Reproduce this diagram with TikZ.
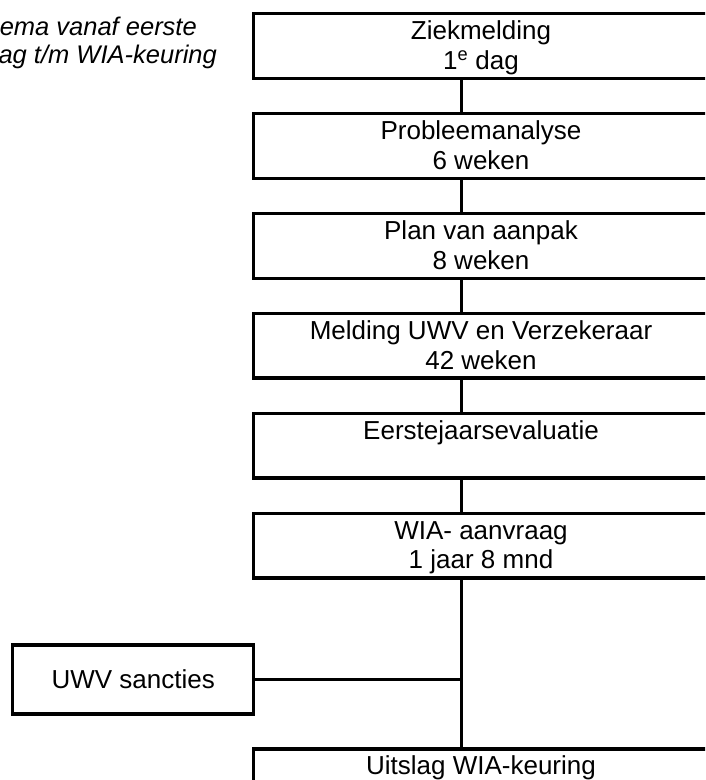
\documentclass[tikz,border=0pt]{standalone}
\usepackage{fontspec}
\setmainfont{Liberation Sans}
\begin{document}
\begin{tikzpicture}[x=1pt,y=-1pt,
  stepbox/.style={draw, line width=3.3pt, rectangle, inner sep=0pt, outer sep=0pt,
    minimum width=454.3pt, minimum height=64.7pt, anchor=north west},
  sidebox/.style={draw, line width=3.3pt, rectangle, inner sep=0pt, outer sep=0pt,
    minimum width=241pt, minimum height=69pt},
  lbl/.style={inner sep=0pt, anchor=base, font=\fontsize{26}{30}\selectfont},
  note/.style={inner sep=0pt, anchor=base east, font=\fontsize{25.5}{28}\selectfont\itshape},
  conn/.style={line width=3.3pt}]
\useasboundingbox (0,0) rectangle (705,780);
\clip (0,0) rectangle (705,780);

% main boxes
\node[stepbox] (b1) at (253.7,13.7) {};
\node[stepbox] (b2) at (253.7,113.6) {};
\node[stepbox] (b3) at (253.7,213.5) {};
\node[stepbox] (b4) at (253.7,313.4) {};
\node[stepbox] (b5) at (253.7,413.3) {};
\node[stepbox] (b6) at (253.7,513.2) {};
\node[stepbox] (b7) at (253.7,749) {};

% side box
\node[sidebox] (uwv) at (133.2,679.5) {};
\node[lbl, anchor=center] (tuwv) at (uwv.center) {UWV sancties};

% texts
\node[lbl] (t1a) at (481,39.5) {Ziekmelding};
\node[lbl] (t1b) at (481,69.3) {1\textsuperscript{e} dag};
\node[lbl] (t2a) at (481,139.4) {Probleemanalyse};
\node[lbl] (t2b) at (481,169.2) {6 weken};
\node[lbl] (t3a) at (481,239.3) {Plan van aanpak};
\node[lbl] (t3b) at (481,269.1) {8 weken};
\node[lbl] (t4a) at (481,339.2) {Melding UWV en Verzekeraar};
\node[lbl] (t4b) at (481,369.0) {42 weken};
\node[lbl] (t5a) at (481,439.1) {Eerstejaarsevaluatie};
\node[lbl] (t6a) at (481,539.0) {WIA- aanvraag};
\node[lbl] (t6b) at (481,568.8) {1 jaar 8 mnd};
\node[lbl] (t7a) at (481,774.8) {Uitslag WIA-keuring};

% note top left
\node[note] (n1) at (197,35.7) {ema vanaf eerste};
\node[note] (n2) at (217,63.3) {ag t/m WIA-keuring};

% connectors
\coordinate (cx) at (461.7,0);
\draw[conn] (b1.south -| cx) -- (b2.north -| cx);
\draw[conn] (b2.south -| cx) -- (b3.north -| cx);
\draw[conn] (b3.south -| cx) -- (b4.north -| cx);
\draw[conn] (b4.south -| cx) -- (b5.north -| cx);
\draw[conn] (b5.south -| cx) -- (b6.north -| cx);
\draw[conn] (b6.south -| cx) -- (b7.north -| cx);
\draw[conn] (uwv.east) -- (uwv.east -| cx);
\end{tikzpicture}
\end{document}
